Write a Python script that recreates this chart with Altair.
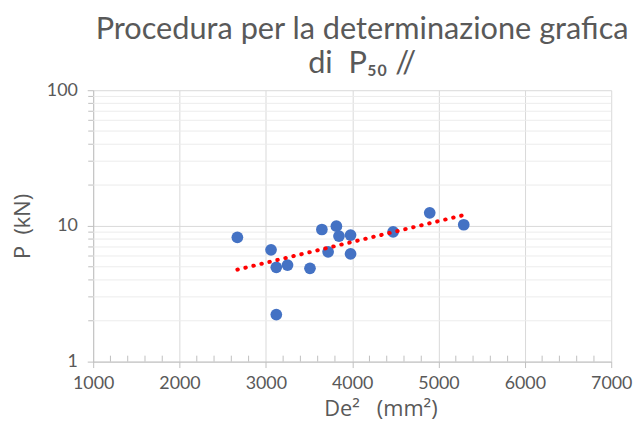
import altair as alt
import pandas as pd
import numpy as np

de2 = [2670, 3060, 3121, 3251, 3121, 3511, 3649, 3721, 3817, 3847, 3981, 3981, 4474, 4898, 5292]
p_kn = [8.24, 6.66, 4.95, 5.15, 2.22, 4.87, 9.41, 6.44, 9.95, 8.42, 8.56, 6.23, 9.04, 12.5, 10.2]
x_ticks = [1000, 2000, 3000, 4000, 5000, 6000, 7000]
x_minor = [v for v in range(1200, 7000, 200) if v % 1000 != 0]
y_ticks = [1, 10, 100]
y_minor = [2, 3, 4, 5, 6, 7, 8, 9, 20, 30, 40, 50, 60, 70, 80, 90]

W, H = 523, 274
FONT = "Lato"
TFONT = "Open Sans"
GREY = "#595959"
NB = "\u00a0"

df = pd.DataFrame({"x": de2, "p": p_kn})

# Excel-style exponential trendline (least squares on ln P)
b, a = np.polyfit(np.array(de2, float), np.log(np.array(p_kn, float)), 1)
tx = np.array([min(de2), max(de2)], float)
trend_df = pd.DataFrame({"x": tx, "p": np.exp(a + b * tx)})

xs = alt.Scale(domain=[1000, 7000], nice=False, zero=False)
ys = alt.Scale(type="log", domain=[1, 100], nice=False)

x_axis = alt.Axis(
    values=x_ticks, title="De\u00b2" + NB * 3 + "(mm\u00b2)", grid=True, gridColor="#d9d9d9",
    domainColor="#bfbfbf", tickColor="#bfbfbf", tickSize=6, ticks=True, labelFlush=False,
    labelFont=FONT, labelFontSize=18, labelColor=GREY, labelPadding=7,
    titleFont=TFONT, titleFontSize=22, titleFontWeight="normal", titleColor=GREY, titlePadding=6,
    titleX=290, format="d")
y_axis = alt.Axis(
    values=y_ticks, title="P" + NB * 2 + "(kN)", grid=True, gridColor="#d9d9d9",
    domainColor="#bfbfbf", tickColor="#bfbfbf", tickSize=6, labelFlush=False,
    labelFont=FONT, labelFontSize=18, labelColor=GREY, labelPadding=10,
    titleFont=TFONT, titleFontSize=22, titleFontWeight="normal", titleColor=GREY, titlePadding=12,
    format="d")

minor_grid = alt.Chart(pd.DataFrame({"p": y_minor})).mark_rule(color="#ececec", strokeWidth=1).encode(
    y=alt.Y("p:Q", scale=ys, axis=y_axis)
)
minor_ticks_x = alt.Chart(pd.DataFrame({"x": x_minor})).mark_rule(color="#bfbfbf", strokeWidth=1).encode(
    x=alt.X("x:Q", scale=xs, axis=x_axis), y=alt.value(H - 6), y2=alt.value(H)
)
minor_ticks_y = alt.Chart(pd.DataFrame({"p": y_minor})).mark_rule(color="#bfbfbf", strokeWidth=1).encode(
    y=alt.Y("p:Q", scale=ys, axis=y_axis), x=alt.value(-5), x2=alt.value(0)
)

points = alt.Chart(df).mark_circle(size=140, color="#4472C4", opacity=1).encode(
    x=alt.X("x:Q", scale=xs, axis=x_axis),
    y=alt.Y("p:Q", scale=ys, axis=y_axis),
)

trend = alt.Chart(trend_df).mark_line(
    color="#ff0000", strokeWidth=4, strokeDash=[0.5, 7.8], strokeCap="round"
).encode(x=alt.X("x:Q", scale=xs, axis=x_axis), y=alt.Y("p:Q", scale=ys, axis=y_axis))

chart = alt.layer(minor_grid, minor_ticks_x, minor_ticks_y, points, trend).properties(
    width=W, height=H,
    title=alt.TitleParams(
        text=["Procedura per la determinazione grafica", "di" + NB + " P\u2085\u2080 //"],
        font=FONT, fontSize=31, fontWeight="normal", color=GREY, anchor="middle",
        lineHeight=35, offset=1, dx=10),
    autosize=alt.AutoSizeParams(type="none"),
    padding={"left": 86, "top": 81, "right": 22, "bottom": 64},
).configure_view(stroke=None)

chart.save("out.html", embed_options={"renderer": "svg", "actions": False})
